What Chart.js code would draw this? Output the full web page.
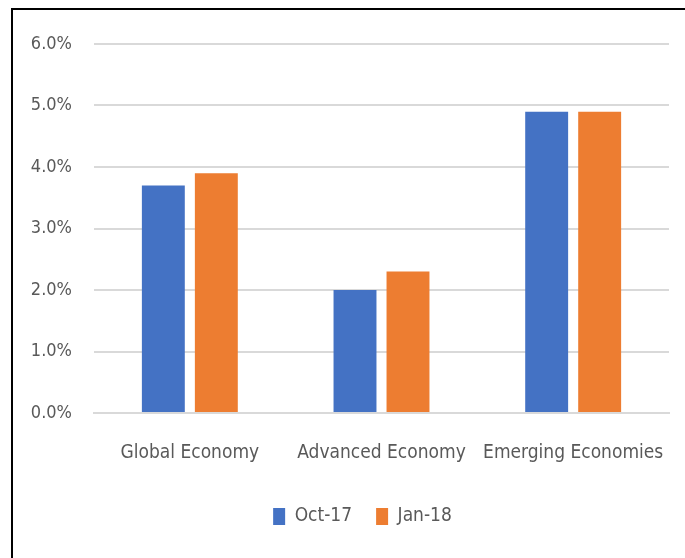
<!DOCTYPE html>
<html>
<head>
<meta charset="utf-8">
<script src="https://cdn.jsdelivr.net/npm/chart.js@4"></script>
<style>
  html, body { margin: 0; padding: 0; background: #fff; overflow: hidden; }
  #wrap { position: relative; width: 685px; height: 558px; }
  #frame {
    position: absolute; left: 11px; top: 8px; width: 700px; height: 600px;
    border: 2px solid #000; box-sizing: border-box;
  }
  canvas { position: absolute; left: 0; top: 0; }
</style>
</head>
<body>
<div id="wrap">
  <div id="frame"></div>
  <canvas id="growth" width="685" height="558"></canvas>
</div>
<script>
const categories = ["Global Economy", "Advanced Economy", "Emerging Economies"];
const seriesNames = ["Oct-17", "Jan-18"];
const oct17 = [3.7, 2.0, 4.9];
const jan18 = [3.9, 2.3, 4.9];
const yTicks = [0, 1, 2, 3, 4, 5, 6];

const FONT = "'DejaVu Sans Condensed', sans-serif";
const GREY = "#595959";
const GRID = "#d9d9d9";

// nudge the legend to the right so it sits under the plot area
const legendShift = {
    id: "legendShift",
    afterLayout(chart) {
        chart.legend.left += 46;
    }
};

new Chart(document.getElementById("growth").getContext("2d"), {
    type: "bar",
    data: {
        labels: categories,
        datasets: [
            { label: seriesNames[0], data: oct17, backgroundColor: "#4472c4" },
            { label: seriesNames[1], data: jan18, backgroundColor: "#ed7d31" }
        ]
    },
    options: {
        responsive: false,
        animation: false,
        categoryPercentage: 0.553,
        barPercentage: 0.81,
        layout: { padding: { left: 10, right: 16, top: 44, bottom: 22 } },
        scales: {
            x: {
                grid: { display: false },
                border: { color: GRID, width: 2 },
                ticks: {
                    color: GREY,
                    font: { family: FONT, size: 19, lineHeight: 1 },
                    padding: 23,
                    maxRotation: 0,
                    autoSkip: false
                },
                // fixed axis band so the plot keeps its size
                afterFit: s => { s.height = 70; s.paddingLeft = 0; s.paddingRight = 0; }
            },
            y: {
                min: 0,
                max: 6,
                afterBuildTicks: axis => { axis.ticks = yTicks.map(v => ({ value: v })); },
                grid: { color: GRID, lineWidth: 2, drawTicks: false },
                border: { display: false },
                ticks: {
                    color: GREY,
                    font: { family: FONT, size: 18 },
                    padding: 22,
                    callback: v => v.toFixed(1) + "%"
                },
                afterFit: s => { s.width = 84; s.paddingTop = 0; s.paddingBottom = 0; }
            }
        },
        plugins: {
            legend: {
                position: "bottom",
                labels: {
                    color: GREY,
                    font: { family: FONT, size: 19 },
                    boxWidth: 12,
                    boxHeight: 17,
                    padding: 24
                }
            },
            tooltip: { enabled: false }
        }
    },
    plugins: [legendShift]
});
</script>
</body>
</html>
